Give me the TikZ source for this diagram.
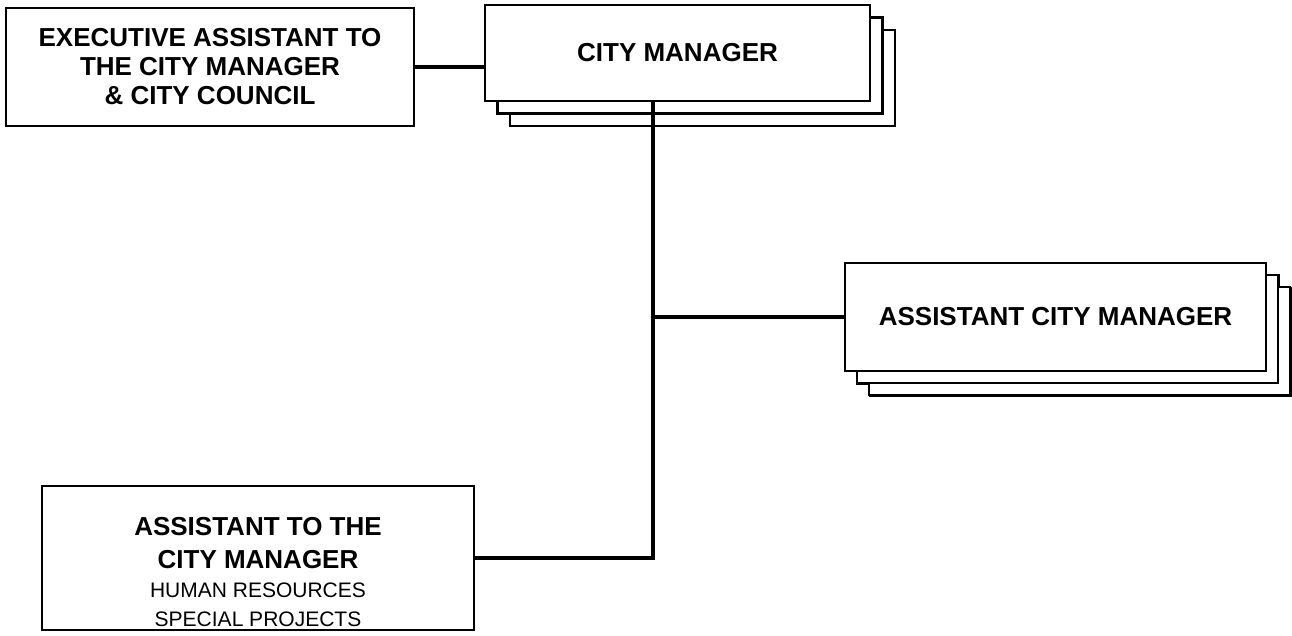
\documentclass[tikz,border=0pt]{standalone}
\usepackage{fontspec}
\setmainfont{Liberation Sans}
\usepackage{tikz}
\usetikzlibrary{shadows}
\usepackage{xcolor}

\begin{document}
\begin{tikzpicture}[x=1pt,y=-1pt,
    post/.style={draw,fill=white,line width=2.4pt,inner sep=0pt,align=center,
      font=\bfseries\fontsize{26}{29}\selectfont},
    stack/.style={post,double copy shadow={shadow xshift=12.5pt,shadow yshift=-12.5pt}},
    conn/.style={line width=4.5pt,line cap=round}]
  \useasboundingbox (0,0) rectangle (1292,635);
  \node[post,minimum width=408pt,minimum height=118pt] (exec) at (210,67)
    {EXECUTIVE ASSISTANT TO\\THE CITY MANAGER\\\& CITY COUNCIL};
  \node[stack,minimum width=385pt,minimum height=96pt] (cm) at (677.5,53) {CITY MANAGER};
  \node[stack,minimum width=421pt,minimum height=108pt,double copy shadow={shadow xshift=12pt,shadow yshift=-12pt}] (acm) at (1055.5,317)
    {ASSISTANT CITY MANAGER};
  \node[post,minimum width=432pt,minimum height=144pt] (asst) at (258,558) {};
  \node[inner sep=0pt,align=center,anchor=south,font=\fontsize{21}{29}\selectfont] (asstxt) at ([yshift=4pt]asst.south)
    {{\bfseries\fontsize{26}{33}\selectfont ASSISTANT TO THE}\\[4pt]
     {\bfseries\fontsize{26}{33}\selectfont CITY MANAGER}\\
     HUMAN RESOURCES\\SPECIAL PROJECTS};
  \coordinate (trunk) at ([xshift=-24.5pt]cm.south);
  \draw[conn] (exec.east) -- (exec.east -| cm.west);
  \draw[conn] (trunk) -- (trunk |- asst.east) -- (asst.east);
  \draw[conn] (trunk |- acm.west) -- (acm.west);
\end{tikzpicture}
\end{document}
